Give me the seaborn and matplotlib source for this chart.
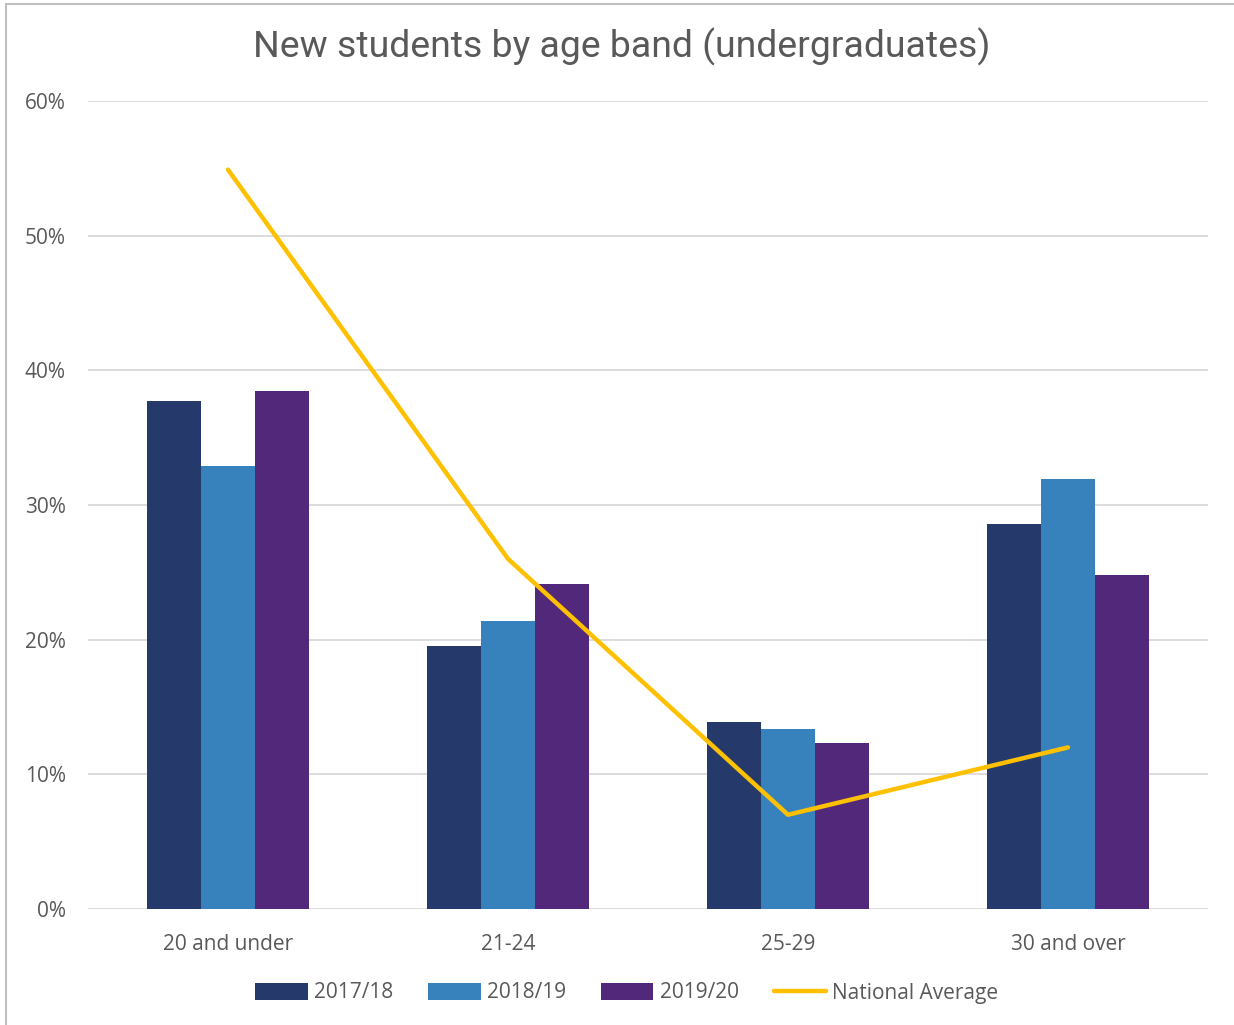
import matplotlib
matplotlib.use("Agg")
import matplotlib.pyplot as plt
from matplotlib.patches import Rectangle, Patch
from matplotlib.lines import Line2D
import seaborn as sns
import pandas as pd

age_bands = ["20 and under", "21-24", "25-29", "30 and over"]
years = ["2017/18", "2018/19", "2019/20"]
share_2017 = [37.7, 19.5, 13.9, 28.6]
share_2018 = [32.9, 21.4, 13.4, 31.9]
share_2019 = [38.5, 24.1, 12.3, 24.8]
national_avg = [54.9, 26.0, 7.0, 12.0]

bar_colors = ["#253A6B", "#3781BC", "#52297A"]
line_color = "#FFC000"
text_color = "#595959"

df = pd.DataFrame({
    "band": age_bands * 3,
    "year": [y for y in years for _ in age_bands],
    "share": share_2017 + share_2018 + share_2019,
})

sns.set_theme(style="white")
plt.rcParams["font.family"] = ["Open Sans", "DejaVu Sans"]

fig = plt.figure(figsize=(12.34, 10.25), dpi=100)
ax = fig.add_axes([88 / 1234, 1 - 909 / 1025, 1120 / 1234, 808 / 1025])

sns.barplot(data=df, x="band", y="share", hue="year", order=age_bands,
            hue_order=years, palette=bar_colors, width=0.58, ax=ax,
            legend=False, saturation=1, edgecolor="none", linewidth=0)
sns.pointplot(x=age_bands, y=national_avg, order=age_bands, color=line_color,
              markers="", linestyles="-", ax=ax, errorbar=None)
for ln in ax.lines:
    ln.set_linewidth(3.2)
    ln.set_solid_capstyle("round")
    ln.set_zorder(5)

ax.set_xlim(-0.5, 3.5)
ax.set_ylim(0, 60)
ax.set_yticks(range(0, 61, 10))
ax.set_yticklabels([f"{v}%" for v in range(0, 61, 10)])
ax.grid(axis="y", color="#D9D9D9", linewidth=1.3)
ax.set_axisbelow(True)
for s in ax.spines.values():
    s.set_visible(False)
ax.set_xlabel("")
ax.set_ylabel("")
ax.tick_params(axis="both", length=0, labelsize=15, colors=text_color)
ax.tick_params(axis="x", pad=18)
ax.tick_params(axis="y", pad=16)
for lbl in ax.get_yticklabels():
    lbl.set_horizontalalignment("right")

fig.text(622 / 1234, 1 - 47 / 1025, "New students by age band (undergraduates)",
         ha="center", va="center", fontsize=26.9, color=text_color,
         family=["Roboto", "DejaVu Sans"])

handles = [Patch(facecolor=c, edgecolor="none") for c in bar_colors]
handles.append(Line2D([0], [0], color=line_color, linewidth=3.2,
                      solid_capstyle="round"))
fig.legend(handles, years + ["National Average"], loc="center",
           bbox_to_anchor=(627 / 1234, 1 - 993 / 1025), ncol=4, frameon=False,
           fontsize=15, labelcolor=text_color, handlelength=2.5,
           handleheight=0.9, handletextpad=0.3, columnspacing=1.7)

fig.add_artist(Rectangle((6 / 1234, -0.01), 1.5, 1 - 4 / 1025 + 0.01,
                         transform=fig.transFigure, fill=False,
                         edgecolor="#BFBFBF", linewidth=1.5))

fig.savefig("out.png", dpi=100, facecolor="white")
